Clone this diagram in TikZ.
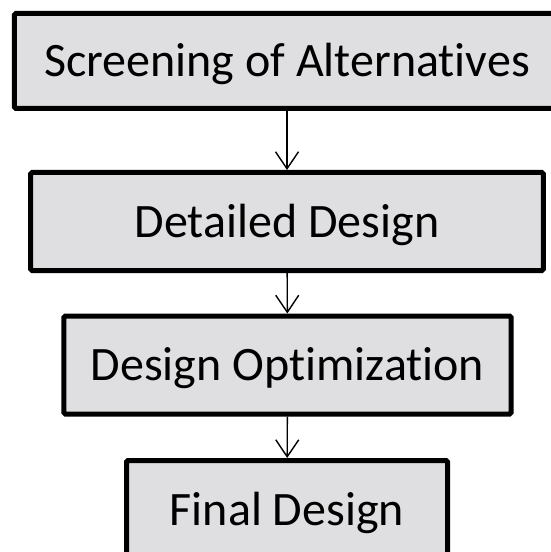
\documentclass[tikz,border=0pt]{standalone}
\usepackage{fontspec}
\setmainfont{Carlito}[Ligatures=NoCommon]
\usetikzlibrary{arrows.meta}

\definecolor{boxgray}{RGB}{223,223,225}

\begin{document}
\begin{tikzpicture}[x=1bp,y=-1bp,
    >={Straight Barb[length=17bp,width=23bp]},
    stage/.style = {
      draw,
      fill = boxgray,
      line width = 5bp,
      rounded corners = 1.5bp,
      rectangle,
      inner sep = 0pt,
      minimum height = 98bp,
      text height = 31bp,
      text depth = 0pt,
      font = \fontsize{48bp}{58bp}\selectfont
    },
    link/.style = {
      ->,
      line width = 1.4bp
    }
  ]
  \clip (0,0) rectangle (551,552);

  \node[stage, minimum width=545bp, minimum height=95bp] (screen) at (287,61)    {Screening of Alternatives};
  \node[stage, minimum width=512.5bp]                   (detail) at (287,221.5) {Detailed Design};
  \node[stage, minimum width=447bp]                     (optim)  at (287.5,365) {Design Optimization};
  \node[stage, minimum width=321bp]                     (final)  at (287,509.5) {Final Design};

  \draw[link] (screen) -- (detail);
  \draw[link] (detail) -- (optim);
  \draw[link] (optim) -- (final);
\end{tikzpicture}
\end{document}
